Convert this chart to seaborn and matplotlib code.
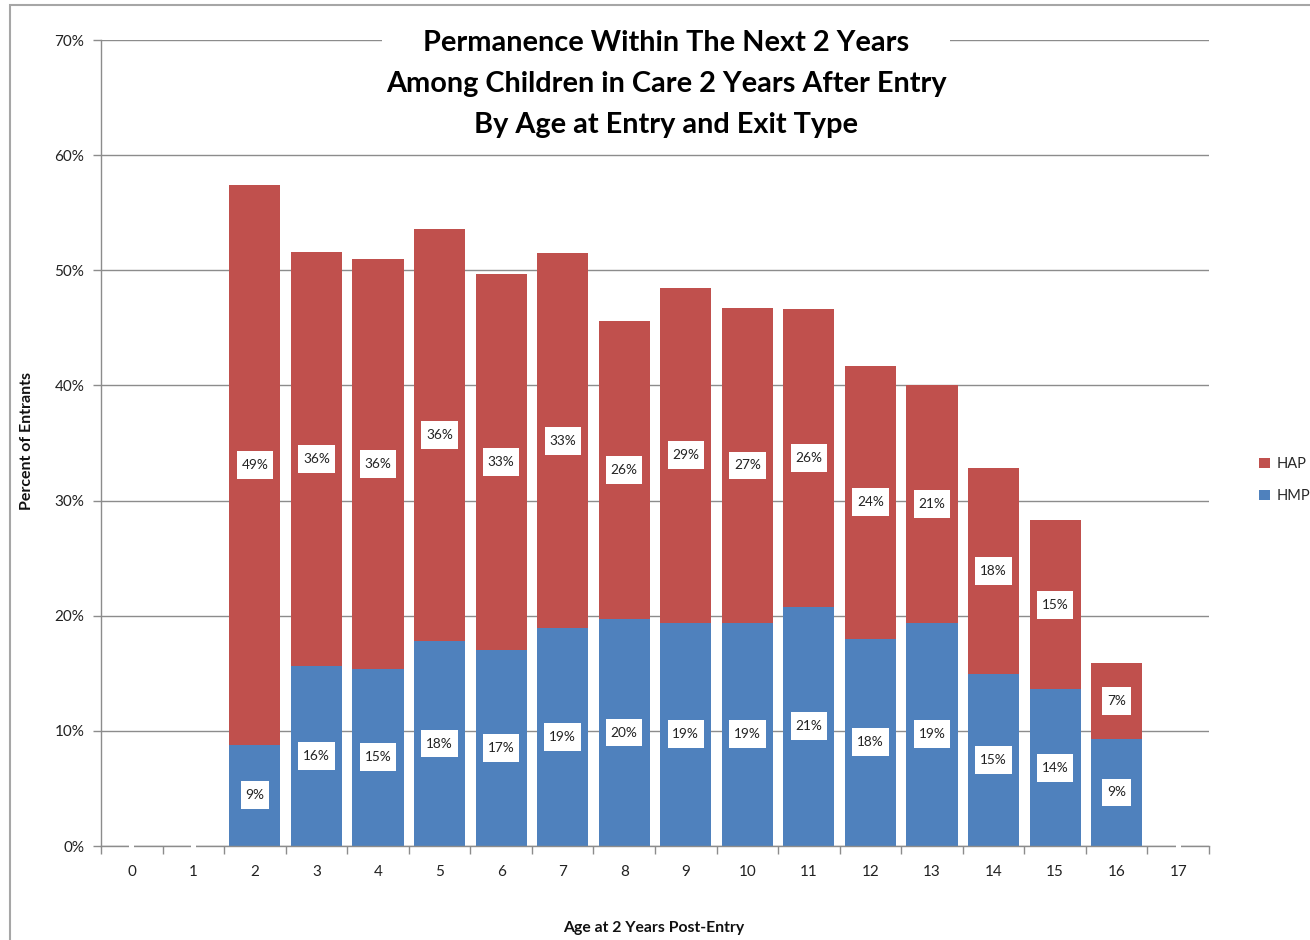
import matplotlib
matplotlib.use("Agg")
import matplotlib.pyplot as plt
from matplotlib.patches import Rectangle, Patch
from matplotlib.path import Path
from matplotlib.ticker import FixedLocator, FuncFormatter
import seaborn as sns
import pandas as pd

# Age at 2 years post-entry
ages = [0, 1, 2, 3, 4, 5, 6, 7, 8, 9, 10, 11, 12, 13, 14, 15, 16, 17]
# Percent of entrants exiting by type
hmp = [0, 0, 8.8, 15.6, 15.4, 17.8, 17.0, 18.9, 19.7, 19.4, 19.4, 20.8, 18.0, 19.4, 14.9, 13.6, 9.3, 0]
hap = [0, 0, 48.6, 36.0, 35.6, 35.8, 32.7, 32.6, 25.9, 29.1, 27.3, 25.8, 23.7, 20.6, 17.9, 14.7, 6.6, 0]
series_names = ["HAP", "HMP"]
title_lines = ["Permanence Within The Next 2 Years",
               "Among Children in Care 2 Years After Entry",
               "By Age at Entry and Exit Type"]

RED = "#C0504D"
BLUE = "#4F81BD"
GRID = "#8C8C8C"

sns.set_theme(style="white")
plt.rcParams["font.family"] = ["Lato", "DejaVu Sans"]

df = pd.DataFrame({"age": ages, "HMP": hmp, "HAP": hap})
df["total"] = df["HMP"] + df["HAP"]

fig = plt.figure(figsize=(13.1, 9.4), dpi=100)
ax = fig.add_axes([101 / 1310, 94 / 940, 1108 / 1310, 806 / 940])

# Stacked bars: full stack in red, HMP portion in blue on top of it
sns.barplot(data=df, x="age", y="total", color=RED, saturation=1, width=0.83,
            errorbar=None, ax=ax, zorder=2, linewidth=0, edgecolor="none")
sns.barplot(data=df, x="age", y="HMP", color=BLUE, saturation=1, width=0.83,
            errorbar=None, ax=ax, zorder=2, linewidth=0, edgecolor="none")

ax.set_xlim(-0.5, len(ages) - 0.5)
ax.set_ylim(0, 70)
ax.yaxis.set_major_locator(FixedLocator(range(0, 71, 10)))
ax.yaxis.set_major_formatter(FuncFormatter(lambda v, p: f"{v:.0f}%"))
ax.grid(axis="y", color=GRID, linewidth=1.0, zorder=0)
ax.set_axisbelow(True)

for side in ["top", "right"]:
    ax.spines[side].set_visible(False)
for side in ["left", "bottom"]:
    ax.spines[side].set_color(GRID)
    ax.spines[side].set_linewidth(1.0)

ax.tick_params(axis="y", which="major", direction="out", length=6, width=1,
               color=GRID, labelsize=11, labelcolor="#222222", pad=6, left=True)
ax.tick_params(axis="x", which="major", length=0, labelsize=11,
               labelcolor="#222222", pad=14)
ax.set_xticks(range(len(ages)))
ax.set_xticklabels([str(a) for a in ages])
ax.set_xticks([i - 0.5 for i in range(len(ages) + 1)], minor=True)
ax.tick_params(axis="x", which="minor", direction="out", length=6, width=1,
               color=GRID, bottom=True)

ax.set_xlabel("")
ax.set_ylabel("")
fig.text(654 / 1310, 1 - 928 / 940, "Age at 2 Years Post-Entry", ha="center",
         va="center", fontsize=11.3, fontweight="bold", color="#111111")
fig.text(27 / 1310, 1 - 441 / 940, "Percent of Entrants", ha="center",
         va="center", rotation=90, fontsize=11.5, fontweight="bold", color="#111111")


def label_box(x0, y0, width, height, mutation_size):
    """Rectangular label box with more vertical than horizontal padding."""
    px = 0.35 * mutation_size
    py = 0.58 * mutation_size
    x0, y0 = x0 - px, y0 - py
    x1, y1 = x0 + width + 2 * px, y0 + height + 2 * py
    return Path([(x0, y0), (x1, y0), (x1, y1), (x0, y1), (x0, y0)], closed=True)


# Value labels in white boxes
box = dict(boxstyle=label_box, facecolor="white", edgecolor="none")
for i, (m, a) in enumerate(zip(hmp, hap)):
    if m == 0 and a == 0:
        ax.text(i, 0, " ", fontsize=4, ha="center", va="center",
                bbox=dict(boxstyle="square,pad=0.3", facecolor="white", edgecolor="none"),
                zorder=5, clip_on=False)
        continue
    ax.text(i, m / 2, f"{m:.0f}%", ha="center", va="center", fontsize=9.8,
            color="#222222", bbox=box, zorder=4)
    ax.text(i, m + a / 2, f"{a:.0f}%", ha="center", va="center", fontsize=9.8,
            color="#222222", bbox=box, zorder=4)

# Title block sitting over the top gridline
fig.text(666 / 1310, 1 - 84 / 940, "\n".join(title_lines), ha="center", va="center",
         fontsize=20.8, fontweight="bold", color="black", linespacing=1.72,
         bbox=dict(boxstyle="square,pad=0.12", facecolor="white", edgecolor="none"),
         zorder=10)

# Legend
handles = [Patch(facecolor=RED, edgecolor="none", label=series_names[0]),
           Patch(facecolor=BLUE, edgecolor="none", label=series_names[1])]
fig.legend(handles=handles, loc="center left",
           bbox_to_anchor=(1252 / 1310, 1 - 480 / 940), frameon=False,
           handlelength=0.7, handleheight=0.7, handletextpad=0.5,
           labelspacing=1.2, fontsize=10.5, borderpad=0)

# Outer chart border
fig.patches.append(Rectangle((10 / 1310, -0.1), 1.2, 1.1 - 5 / 940,
                             transform=fig.transFigure, fill=False,
                             edgecolor="#A6A6A6", linewidth=1.5, zorder=0))

fig.savefig("out.png", dpi=100, facecolor="white")
